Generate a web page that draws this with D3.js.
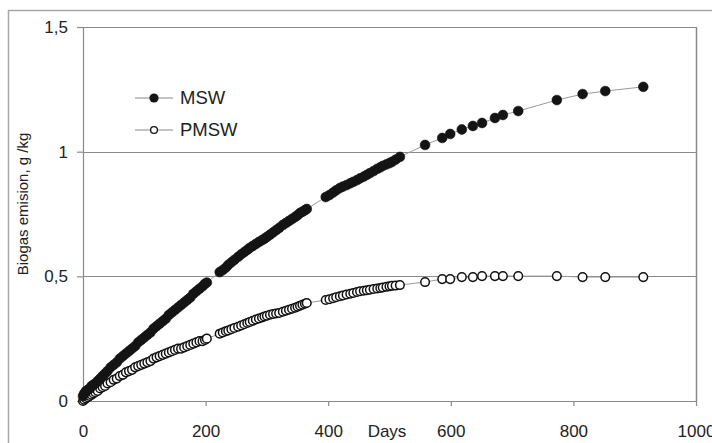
<!DOCTYPE html>
<html><head><meta charset="utf-8">
<script src="https://cdn.jsdelivr.net/npm/d3@7"></script>
<style>
html,body{margin:0;padding:0;background:#fff;}
svg{display:block;font-family:"Liberation Sans",Arial,sans-serif;}
</style></head>
<body><svg id="c" width="712" height="443"></svg>
<script>
// ---- data ----
const days = [0,2,5,8,11,14,17,20,24,28,32,36,40,45,50,55,60,65,70,75,80,85,90,95,100,105,110,115,120,125,130,135,140,145,150,155,160,165,170,175,180,185,190,195,199,202,
  223,228,233,237,242,247,253,258,263,268,272,277,282,287,292,296,300,305,310,315,320,326,331,336,341,346,350,354,358,362,365,
  396,402,408,413,419,424,430,436,441,447,452,458,463,468,474,480,485,489,495,500,504,510,517,
  558,586,599,618,636,651,672,685,710,773,815,852,914];
const msw = [0.020,0.030,0.040,0.045,0.050,0.060,0.065,0.070,0.080,0.090,0.100,0.110,0.120,0.135,0.145,0.155,0.170,0.180,0.190,0.200,0.210,0.220,0.235,0.245,0.255,0.265,0.275,0.290,0.300,0.310,0.320,0.330,0.345,0.355,0.365,0.375,0.385,0.395,0.405,0.415,0.430,0.440,0.450,0.460,0.470,0.475,
  0.517,0.525,0.535,0.546,0.556,0.566,0.578,0.588,0.597,0.606,0.614,0.622,0.630,0.638,0.645,0.651,0.658,0.667,0.676,0.685,0.694,0.706,0.714,0.722,0.730,0.738,0.745,0.754,0.759,0.765,0.770,
  0.818,0.826,0.836,0.845,0.854,0.860,0.866,0.873,0.879,0.886,0.893,0.900,0.907,0.914,0.922,0.931,0.937,0.943,0.949,0.954,0.959,0.968,0.979,
  1.027,1.055,1.071,1.089,1.103,1.115,1.135,1.147,1.163,1.207,1.231,1.243,1.260];
const pmsw = [0.000,0.005,0.010,0.015,0.020,0.025,0.030,0.035,0.040,0.050,0.055,0.060,0.070,0.075,0.085,0.090,0.100,0.105,0.115,0.120,0.125,0.135,0.140,0.145,0.150,0.155,0.160,0.170,0.175,0.180,0.185,0.190,0.195,0.200,0.205,0.210,0.210,0.215,0.220,0.225,0.230,0.235,0.240,0.240,0.245,0.250,
  0.270,0.275,0.280,0.283,0.288,0.293,0.298,0.303,0.308,0.313,0.317,0.322,0.327,0.331,0.335,0.339,0.342,0.346,0.349,0.351,0.353,0.358,0.362,0.366,0.370,0.374,0.378,0.382,0.386,0.390,0.393,
  0.405,0.408,0.412,0.416,0.420,0.423,0.427,0.430,0.433,0.437,0.440,0.442,0.444,0.446,0.449,0.451,0.453,0.455,0.458,0.460,0.462,0.463,0.465,
  0.477,0.489,0.489,0.497,0.497,0.501,0.501,0.501,0.501,0.501,0.497,0.497,0.497];
const seriesNames = ["MSW","PMSW"];
const xTicks = [0,200,400,600,800,1000];
const yTicks = [0,0.5,1,1.5];
const yLabel = "Biogas emision, g /kg";
const xLabel = "Days";

// ---- chart ----
const svg = d3.select("#c");
svg.append("rect").attr("width",712).attr("height",443).attr("fill","#fff");
// outer frame (extends past the right and bottom edges, as in the reference)
svg.append("rect").attr("x",8.5).attr("y",10.5).attr("width",740).attr("height",460)
  .attr("fill","none").attr("stroke","#a8a8a8").attr("stroke-width",1.5);

const x = d3.scaleLinear().domain([0,1000]).range([83,696]);
const y = d3.scaleLinear().domain([0,1.5]).range([401,27]);
const grey = "#8a8a8a";

// gridlines
svg.append("g").selectAll("line").data(yTicks.filter(d=>d>0)).join("line")
  .attr("x1",x(0)).attr("x2",x(1000)).attr("y1",d=>Math.round(y(d))+0.5).attr("y2",d=>Math.round(y(d))+0.5)
  .attr("stroke",grey).attr("stroke-width",1);
// right border
svg.append("line").attr("x1",x(1000)+0.5).attr("x2",x(1000)+0.5).attr("y1",y(1.5)).attr("y2",y(0))
  .attr("stroke",grey).attr("stroke-width",1.5);

const fmt = d => String(d).replace(".",",");
const yAxis = svg.append("g").attr("transform",`translate(${x(0)},0)`)
  .call(d3.axisLeft(y).tickValues(yTicks).tickFormat(fmt).tickSize(6).tickSizeOuter(0).tickPadding(9));
const xAxis = svg.append("g").attr("transform",`translate(0,${y(0)})`)
  .call(d3.axisBottom(x).tickValues(xTicks).tickFormat(d3.format("d")).tickSize(5).tickSizeOuter(0).tickPadding(19));
[yAxis,xAxis].forEach(g=>{
  g.selectAll("path,line").attr("stroke",grey).attr("stroke-width",1.2);
  g.selectAll("text").attr("font-size",17).attr("fill","#222").attr("font-family","Liberation Sans, Arial, sans-serif");
});

// axis labels
svg.append("text").attr("x",387).attr("y",437).attr("text-anchor","middle")
  .attr("font-size",17).attr("fill","#222").text(xLabel);
svg.append("text").attr("transform","translate(28,204) rotate(-90)").attr("text-anchor","middle")
  .attr("font-size",15).attr("fill","#222").text(yLabel);

// series
const rows = days.map((d,i)=>({d, m:msw[i], p:pmsw[i]}));
const line = key => d3.line().x(r=>x(r.d)).y(r=>y(r[key]));
svg.append("path").datum(rows).attr("d",line("m")).attr("fill","none").attr("stroke","#9a9a9a").attr("stroke-width",1);
svg.append("path").datum(rows).attr("d",line("p")).attr("fill","none").attr("stroke","#9a9a9a").attr("stroke-width",1);

svg.append("g").selectAll("circle").data(rows).join("circle")
  .attr("cx",r=>x(r.d)).attr("cy",r=>y(r.p)).attr("r",4.3)
  .attr("fill","#fff").attr("stroke","#111").attr("stroke-width",1.5);
svg.append("g").selectAll("circle").data(rows).join("circle")
  .attr("cx",r=>x(r.d)).attr("cy",r=>y(r.m)).attr("r",4.9)
  .attr("fill","#141414").attr("stroke","#141414").attr("stroke-width",0.6);

// legend
const leg = svg.append("g");
[{name:seriesNames[0], cy:98, filled:true},{name:seriesNames[1], cy:130, filled:false}].forEach(l=>{
  leg.append("line").attr("x1",135).attr("x2",173).attr("y1",l.cy).attr("y2",l.cy).attr("stroke","#888").attr("stroke-width",1);
  if(l.filled) leg.append("circle").attr("cx",154).attr("cy",l.cy).attr("r",4.6).attr("fill","#141414");
  else leg.append("circle").attr("cx",154).attr("cy",l.cy).attr("r",3.4).attr("fill","#fff").attr("stroke","#111").attr("stroke-width",1.3);
  leg.append("text").attr("x",180).attr("y",l.cy+5.5).attr("font-size",18.5).attr("fill","#222").text(l.name);
});
</script></body></html>
